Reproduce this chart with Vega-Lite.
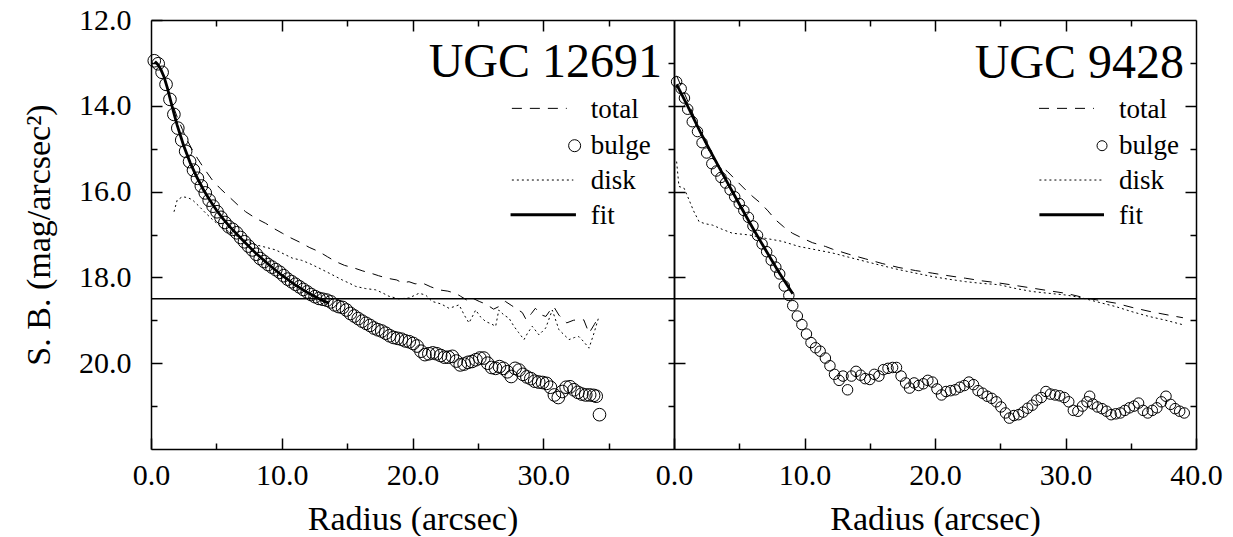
{
"$schema":"https://vega.github.io/schema/vega-lite/v6.json",
"background":"white",
"padding":{"left":22,"top":5,"right":5,"bottom":0},
"spacing":0,
"bounds":"flush",
"config":{
 "view":{"stroke":null},
 "font":"Liberation Serif",
 "axis":{"grid":false,"domainColor":"black","domainWidth":1.5,"tickColor":"black","tickWidth":1.5,"labelFont":"Liberation Serif","labelFontSize":30,"labelColor":"black","titleFont":"Liberation Serif","titleFontSize":34,"titleFontWeight":"normal","titleColor":"black","labelFlush":false,"labelOverlap":false},
 "text":{"font":"Liberation Serif","color":"black"}
},
"datasets":{
 "lb":[{"r":0.25,"sb":12.95},{"r":0.55,"sb":13.02},{"r":0.85,"sb":13.22},{"r":1.15,"sb":13.5},{"r":1.45,"sb":13.85},{"r":1.75,"sb":14.2},{"r":2.05,"sb":14.52},{"r":2.35,"sb":14.8},{"r":2.65,"sb":15.06},{"r":2.95,"sb":15.3},{"r":3.25,"sb":15.5},{"r":3.55,"sb":15.69},{"r":3.85,"sb":15.87},{"r":4.15,"sb":16.03},{"r":4.45,"sb":16.2},{"r":4.75,"sb":16.34},{"r":5.05,"sb":16.47},{"r":5.35,"sb":16.6},{"r":5.65,"sb":16.72},{"r":5.95,"sb":16.82},{"r":6.25,"sb":16.88},{"r":6.55,"sb":16.96},{"r":6.85,"sb":17.07},{"r":7.15,"sb":17.17},{"r":7.45,"sb":17.27},{"r":7.75,"sb":17.36},{"r":8.05,"sb":17.46},{"r":8.35,"sb":17.56},{"r":8.65,"sb":17.63},{"r":8.95,"sb":17.7},{"r":9.25,"sb":17.76},{"r":9.55,"sb":17.82},{"r":9.85,"sb":17.88},{"r":10.15,"sb":17.96},{"r":10.45,"sb":18.04},{"r":10.75,"sb":18.1},{"r":11.05,"sb":18.16},{"r":11.35,"sb":18.22},{"r":11.65,"sb":18.28},{"r":11.95,"sb":18.34},{"r":12.25,"sb":18.4},{"r":12.55,"sb":18.45},{"r":12.85,"sb":18.49},{"r":13.15,"sb":18.51},{"r":13.45,"sb":18.53},{"r":13.75,"sb":18.57},{"r":14.05,"sb":18.64},{"r":14.35,"sb":18.68},{"r":14.65,"sb":18.7},{"r":14.95,"sb":18.76},{"r":15.25,"sb":18.84},{"r":15.55,"sb":18.9},{"r":15.85,"sb":18.96},{"r":16.15,"sb":19.02},{"r":16.45,"sb":19.07},{"r":16.75,"sb":19.12},{"r":17.05,"sb":19.18},{"r":17.35,"sb":19.22},{"r":17.65,"sb":19.25},{"r":17.95,"sb":19.3},{"r":18.25,"sb":19.36},{"r":18.55,"sb":19.4},{"r":18.85,"sb":19.42},{"r":19.15,"sb":19.44},{"r":19.45,"sb":19.48},{"r":19.75,"sb":19.5},{"r":20.05,"sb":19.54},{"r":20.35,"sb":19.6},{"r":20.65,"sb":19.72},{"r":20.95,"sb":19.8},{"r":21.25,"sb":19.78},{"r":21.55,"sb":19.76},{"r":21.85,"sb":19.78},{"r":22.15,"sb":19.82},{"r":22.45,"sb":19.86},{"r":22.75,"sb":19.86},{"r":23.05,"sb":19.84},{"r":23.35,"sb":19.95},{"r":23.65,"sb":20.04},{"r":23.95,"sb":20.02},{"r":24.25,"sb":19.98},{"r":24.55,"sb":19.96},{"r":24.85,"sb":19.92},{"r":25.15,"sb":19.88},{"r":25.45,"sb":19.88},{"r":25.75,"sb":20.0},{"r":26.05,"sb":20.1},{"r":26.35,"sb":20.12},{"r":26.65,"sb":20.08},{"r":26.95,"sb":20.12},{"r":27.25,"sb":20.2},{"r":27.55,"sb":20.31},{"r":27.85,"sb":20.12},{"r":28.15,"sb":20.16},{"r":28.45,"sb":20.26},{"r":28.75,"sb":20.32},{"r":29.05,"sb":20.36},{"r":29.35,"sb":20.42},{"r":29.65,"sb":20.44},{"r":29.95,"sb":20.45},{"r":30.25,"sb":20.47},{"r":30.55,"sb":20.56},{"r":30.85,"sb":20.74},{"r":31.15,"sb":20.8},{"r":31.45,"sb":20.66},{"r":31.75,"sb":20.56},{"r":32.05,"sb":20.55},{"r":32.35,"sb":20.62},{"r":32.65,"sb":20.68},{"r":32.95,"sb":20.72},{"r":33.25,"sb":20.74},{"r":33.55,"sb":20.74},{"r":33.85,"sb":20.75},{"r":34.05,"sb":20.77},{"r":34.3,"sb":21.2}],
 "lf":[{"r":0.3,"sb":12.97},{"r":0.5,"sb":13.03},{"r":0.75,"sb":13.15},{"r":1.0,"sb":13.33},{"r":1.25,"sb":13.58},{"r":1.5,"sb":13.88},{"r":1.75,"sb":14.17},{"r":2.0,"sb":14.45},{"r":2.5,"sb":14.93},{"r":3.0,"sb":15.33},{"r":3.5,"sb":15.66},{"r":4.0,"sb":15.95},{"r":4.5,"sb":16.2},{"r":5.0,"sb":16.43},{"r":5.5,"sb":16.63},{"r":6.0,"sb":16.81},{"r":7.0,"sb":17.13},{"r":8.0,"sb":17.43},{"r":9.0,"sb":17.7},{"r":10.0,"sb":17.95},{"r":11.0,"sb":18.17},{"r":12.0,"sb":18.36},{"r":13.0,"sb":18.52},{"r":13.6,"sb":18.6}],
 "lt":[{"r":1.75,"sb":14.05},{"r":2.05,"sb":14.3},{"r":2.4,"sb":14.55},{"r":2.8,"sb":14.82},{"r":3.2,"sb":15.05},{"r":3.54,"sb":15.22},{"r":4.1,"sb":15.48},{"r":4.69,"sb":15.73},{"r":5.3,"sb":15.93},{"r":5.97,"sb":16.12},{"r":6.6,"sb":16.3},{"r":7.24,"sb":16.47},{"r":8.0,"sb":16.62},{"r":8.77,"sb":16.74},{"r":9.4,"sb":16.86},{"r":10.04,"sb":16.97},{"r":10.7,"sb":17.08},{"r":11.45,"sb":17.19},{"r":12.1,"sb":17.3},{"r":12.85,"sb":17.4},{"r":13.5,"sb":17.52},{"r":14.12,"sb":17.63},{"r":14.8,"sb":17.72},{"r":15.53,"sb":17.78},{"r":16.2,"sb":17.85},{"r":16.8,"sb":17.9},{"r":17.4,"sb":17.96},{"r":18.07,"sb":18.02},{"r":18.8,"sb":18.06},{"r":19.22,"sb":18.13},{"r":19.73,"sb":18.1},{"r":20.2,"sb":18.15},{"r":20.75,"sb":18.13},{"r":21.4,"sb":18.22},{"r":22.03,"sb":18.29},{"r":22.7,"sb":18.32},{"r":23.3,"sb":18.37},{"r":23.68,"sb":18.44},{"r":24.0,"sb":18.5},{"r":24.32,"sb":18.56},{"r":24.7,"sb":18.5},{"r":25.1,"sb":18.56},{"r":25.6,"sb":18.62},{"r":26.2,"sb":18.74},{"r":26.6,"sb":18.68},{"r":27.1,"sb":18.56},{"r":27.6,"sb":18.66},{"r":28.0,"sb":18.74},{"r":28.4,"sb":18.82},{"r":28.7,"sb":18.99},{"r":29.1,"sb":18.84},{"r":29.4,"sb":18.72},{"r":29.9,"sb":18.88},{"r":30.2,"sb":18.91},{"r":30.5,"sb":18.78},{"r":30.8,"sb":18.68},{"r":31.2,"sb":18.88},{"r":31.8,"sb":19.06},{"r":32.3,"sb":19.0},{"r":32.8,"sb":18.98},{"r":33.1,"sb":18.99},{"r":33.5,"sb":19.3},{"r":33.9,"sb":19.1},{"r":34.26,"sb":18.91}],
 "ld":[{"r":1.76,"sb":16.47},{"r":2.0,"sb":16.2},{"r":2.4,"sb":16.12},{"r":2.8,"sb":16.14},{"r":3.16,"sb":16.19},{"r":3.6,"sb":16.32},{"r":4.18,"sb":16.5},{"r":4.8,"sb":16.68},{"r":5.5,"sb":16.85},{"r":6.2,"sb":16.98},{"r":7.0,"sb":17.1},{"r":8.0,"sb":17.24},{"r":8.8,"sb":17.3},{"r":9.54,"sb":17.36},{"r":10.2,"sb":17.46},{"r":10.8,"sb":17.55},{"r":11.5,"sb":17.6},{"r":12.08,"sb":17.67},{"r":12.7,"sb":17.76},{"r":13.36,"sb":17.86},{"r":14.0,"sb":17.96},{"r":14.63,"sb":18.06},{"r":15.2,"sb":18.14},{"r":15.66,"sb":18.21},{"r":16.4,"sb":18.26},{"r":17.18,"sb":18.29},{"r":17.7,"sb":18.36},{"r":18.2,"sb":18.44},{"r":18.97,"sb":18.5},{"r":19.73,"sb":18.48},{"r":20.5,"sb":18.37},{"r":21.0,"sb":18.41},{"r":21.5,"sb":18.56},{"r":22.2,"sb":18.62},{"r":22.79,"sb":18.72},{"r":23.2,"sb":18.68},{"r":23.56,"sb":18.64},{"r":24.0,"sb":18.9},{"r":24.32,"sb":19.06},{"r":24.6,"sb":18.9},{"r":24.83,"sb":18.76},{"r":25.2,"sb":18.92},{"r":25.6,"sb":19.03},{"r":26.0,"sb":19.08},{"r":26.36,"sb":19.14},{"r":26.6,"sb":18.76},{"r":27.0,"sb":18.88},{"r":27.38,"sb":18.95},{"r":27.76,"sb":19.14},{"r":28.1,"sb":19.28},{"r":28.53,"sb":19.45},{"r":28.8,"sb":19.3},{"r":29.16,"sb":19.14},{"r":29.67,"sb":19.34},{"r":30.19,"sb":19.18},{"r":30.69,"sb":18.76},{"r":31.2,"sb":19.22},{"r":31.6,"sb":19.34},{"r":31.97,"sb":19.45},{"r":32.4,"sb":19.4},{"r":32.73,"sb":19.38},{"r":33.1,"sb":19.5},{"r":33.5,"sb":19.65},{"r":33.88,"sb":19.3},{"r":34.26,"sb":18.91}],
 "rb":[{"r":0.2,"sb":13.44},{"r":0.55,"sb":13.6},{"r":0.8,"sb":13.82},{"r":1.05,"sb":14.08},{"r":1.4,"sb":14.37},{"r":1.8,"sb":14.6},{"r":2.15,"sb":14.86},{"r":2.5,"sb":15.1},{"r":2.9,"sb":15.35},{"r":3.25,"sb":15.52},{"r":3.6,"sb":15.67},{"r":3.95,"sb":15.8},{"r":4.3,"sb":15.96},{"r":4.65,"sb":16.12},{"r":5.0,"sb":16.28},{"r":5.35,"sb":16.44},{"r":5.7,"sb":16.6},{"r":6.05,"sb":16.8},{"r":6.4,"sb":17.02},{"r":6.75,"sb":17.22},{"r":7.1,"sb":17.4},{"r":7.45,"sb":17.6},{"r":7.8,"sb":17.76},{"r":8.1,"sb":17.92},{"r":8.45,"sb":18.2},{"r":8.8,"sb":18.42},{"r":9.1,"sb":18.66},{"r":9.45,"sb":18.9},{"r":9.8,"sb":19.1},{"r":10.15,"sb":19.32},{"r":10.5,"sb":19.52},{"r":10.85,"sb":19.64},{"r":11.2,"sb":19.72},{"r":11.6,"sb":19.88},{"r":11.95,"sb":20.06},{"r":12.3,"sb":20.26},{"r":12.65,"sb":20.4},{"r":12.95,"sb":20.3},{"r":13.3,"sb":20.62},{"r":13.6,"sb":20.3},{"r":13.95,"sb":20.19},{"r":14.3,"sb":20.28},{"r":14.65,"sb":20.36},{"r":15.0,"sb":20.38},{"r":15.35,"sb":20.26},{"r":15.7,"sb":20.3},{"r":16.05,"sb":20.15},{"r":16.4,"sb":20.12},{"r":16.75,"sb":20.1},{"r":17.05,"sb":20.1},{"r":17.4,"sb":20.3},{"r":17.75,"sb":20.46},{"r":18.05,"sb":20.58},{"r":18.4,"sb":20.46},{"r":18.75,"sb":20.52},{"r":19.1,"sb":20.48},{"r":19.45,"sb":20.4},{"r":19.8,"sb":20.44},{"r":20.15,"sb":20.6},{"r":20.5,"sb":20.74},{"r":20.85,"sb":20.66},{"r":21.2,"sb":20.64},{"r":21.55,"sb":20.62},{"r":21.9,"sb":20.56},{"r":22.25,"sb":20.52},{"r":22.6,"sb":20.44},{"r":22.95,"sb":20.5},{"r":23.3,"sb":20.64},{"r":23.65,"sb":20.7},{"r":24.0,"sb":20.77},{"r":24.35,"sb":20.82},{"r":24.7,"sb":20.9},{"r":25.05,"sb":21.02},{"r":25.4,"sb":21.16},{"r":25.7,"sb":21.28},{"r":26.05,"sb":21.22},{"r":26.4,"sb":21.2},{"r":26.75,"sb":21.14},{"r":27.1,"sb":21.05},{"r":27.45,"sb":20.98},{"r":27.8,"sb":20.86},{"r":28.15,"sb":20.8},{"r":28.5,"sb":20.66},{"r":28.85,"sb":20.72},{"r":29.2,"sb":20.74},{"r":29.55,"sb":20.76},{"r":29.9,"sb":20.8},{"r":30.25,"sb":20.9},{"r":30.6,"sb":21.1},{"r":30.95,"sb":21.12},{"r":31.3,"sb":21.0},{"r":31.65,"sb":20.9},{"r":31.85,"sb":20.77},{"r":32.1,"sb":20.95},{"r":32.45,"sb":21.02},{"r":32.8,"sb":21.06},{"r":33.15,"sb":21.12},{"r":33.5,"sb":21.2},{"r":33.85,"sb":21.18},{"r":34.2,"sb":21.16},{"r":34.55,"sb":21.1},{"r":34.9,"sb":21.04},{"r":35.25,"sb":21.0},{"r":35.6,"sb":20.93},{"r":35.95,"sb":21.1},{"r":36.3,"sb":21.16},{"r":36.65,"sb":21.1},{"r":37.0,"sb":21.04},{"r":37.35,"sb":20.9},{"r":37.7,"sb":20.77},{"r":38.05,"sb":20.96},{"r":38.4,"sb":21.06},{"r":38.75,"sb":21.12},{"r":39.1,"sb":21.16}],
 "rf":[{"r":0.2,"sb":13.5},{"r":1.0,"sb":13.98},{"r":2.0,"sb":14.6},{"r":3.0,"sb":15.18},{"r":4.0,"sb":15.74},{"r":5.0,"sb":16.29},{"r":6.0,"sb":16.83},{"r":7.0,"sb":17.35},{"r":8.0,"sb":17.86},{"r":9.1,"sb":18.38}],
 "rt":[{"r":0.2,"sb":13.3},{"r":1.0,"sb":13.85},{"r":2.0,"sb":14.6},{"r":2.94,"sb":15.22},{"r":3.5,"sb":15.4},{"r":4.09,"sb":15.53},{"r":4.8,"sb":15.75},{"r":5.49,"sb":15.96},{"r":6.05,"sb":16.12},{"r":6.64,"sb":16.27},{"r":7.2,"sb":16.45},{"r":7.79,"sb":16.66},{"r":8.4,"sb":16.82},{"r":9.07,"sb":16.97},{"r":9.8,"sb":17.08},{"r":10.6,"sb":17.19},{"r":11.62,"sb":17.28},{"r":12.13,"sb":17.34},{"r":13.4,"sb":17.46},{"r":14.69,"sb":17.57},{"r":16.0,"sb":17.68},{"r":17.24,"sb":17.77},{"r":18.5,"sb":17.84},{"r":19.79,"sb":17.9},{"r":21.0,"sb":17.96},{"r":22.35,"sb":18.02},{"r":23.6,"sb":18.08},{"r":24.9,"sb":18.13},{"r":26.2,"sb":18.19},{"r":27.46,"sb":18.25},{"r":28.7,"sb":18.31},{"r":30.01,"sb":18.37},{"r":31.55,"sb":18.48},{"r":32.7,"sb":18.54},{"r":33.84,"sb":18.6},{"r":35.1,"sb":18.7},{"r":36.4,"sb":18.79},{"r":37.4,"sb":18.85},{"r":38.44,"sb":18.91},{"r":39.0,"sb":18.94}],
 "rd":[{"r":0.2,"sb":15.3},{"r":0.38,"sb":15.88},{"r":0.77,"sb":15.92},{"r":1.15,"sb":16.19},{"r":1.5,"sb":16.45},{"r":1.92,"sb":16.7},{"r":2.4,"sb":16.75},{"r":2.94,"sb":16.78},{"r":3.7,"sb":16.88},{"r":4.47,"sb":16.97},{"r":5.75,"sb":17.01},{"r":7.03,"sb":17.09},{"r":8.3,"sb":17.16},{"r":9.58,"sb":17.28},{"r":10.6,"sb":17.34},{"r":11.62,"sb":17.4},{"r":12.13,"sb":17.43},{"r":13.4,"sb":17.53},{"r":14.69,"sb":17.63},{"r":16.0,"sb":17.73},{"r":17.24,"sb":17.82},{"r":18.5,"sb":17.9},{"r":19.79,"sb":17.98},{"r":21.0,"sb":18.04},{"r":22.35,"sb":18.1},{"r":23.6,"sb":18.14},{"r":24.9,"sb":18.17},{"r":26.2,"sb":18.26},{"r":27.46,"sb":18.33},{"r":28.7,"sb":18.37},{"r":30.01,"sb":18.41},{"r":31.0,"sb":18.46},{"r":31.8,"sb":18.52},{"r":32.8,"sb":18.6},{"r":33.84,"sb":18.68},{"r":35.1,"sb":18.8},{"r":36.4,"sb":18.91},{"r":37.7,"sb":19.0},{"r":38.95,"sb":19.1}]
},
"hconcat":[
 {
  "width":523,"height":429,
  "resolve":{"axis":{"x":"independent","y":"independent"}},
  "layer":[
   {"data":{"name":"lb"},"mark":{"type":"point","shape":"circle","filled":false,"stroke":"black","strokeWidth":1,"size":160,"opacity":1},
    "encoding":{
     "x":{"field":"r","type":"quantitative","scale":{"domain":[0,40],"nice":false,"zero":false},"axis":{"orient":"bottom","values":[0,10,20,30],"format":".1f","title":"Radius (arcsec)","tickSize":-11,"labelPadding":22,"titlePadding":12}},
     "y":{"field":"sb","type":"quantitative","scale":{"domain":[12,22],"reverse":true,"nice":false,"zero":false},"axis":{"orient":"left","values":[12,14,16,18,20],"format":".1f","title":"S. B. (mag/arcsec²)","tickSize":-11,"labelPadding":31,"titlePadding":22}}}},
   {"data":{"name":"lf"},"mark":{"type":"line","stroke":"black","strokeWidth":2.8},
    "encoding":{
     "x":{"field":"r","type":"quantitative","axis":{"orient":"bottom","values":[5,15,25,35],"labels":false,"title":null,"tickSize":-6,"domain":false}},
     "y":{"field":"sb","type":"quantitative","axis":{"orient":"left","values":[13,15,17,19,21],"labels":false,"title":null,"tickSize":-6,"domain":false}}}},
   {"data":{"name":"lt"},"mark":{"type":"line","stroke":"black","strokeWidth":1,"strokeDash":[10,8]},
    "encoding":{
     "x":{"field":"r","type":"quantitative","axis":{"orient":"top","values":[10,20,30],"labels":false,"title":null,"tickSize":-11}},
     "y":{"field":"sb","type":"quantitative","axis":{"orient":"right","values":[13,14,15,16,17,18,19,20,21],"labels":false,"title":null,"tickSize":-6}}}},
   {"data":{"name":"ld"},"mark":{"type":"line","stroke":"black","strokeWidth":1,"strokeDash":[2,3]},
    "encoding":{
     "x":{"field":"r","type":"quantitative","axis":{"orient":"top","values":[5,15,25,35],"labels":false,"title":null,"tickSize":-6,"domain":false}},
     "y":{"field":"sb","type":"quantitative","axis":null}}},
   {"data":{"values":[{}]},"mark":{"type":"rule","stroke":"black","strokeWidth":1.5},
    "encoding":{"y":{"datum":18.5,"type":"quantitative","axis":null}}},
   {"data":{"values":[{}]},"mark":{"type":"text","text":"UGC 12691","align":"right","baseline":"alphabetic","fontSize":48,"font":"Liberation Serif"},
    "encoding":{"x":{"datum":39.08,"type":"quantitative","axis":null},"y":{"datum":13.33,"type":"quantitative","axis":null}}},
   {"data":{"values":[{}]},"mark":{"type":"text","text":["total","bulge","disk","fit"],"lineHeight":35.3,"align":"left","baseline":"alphabetic","fontSize":27,"font":"Liberation Serif"},
    "encoding":{"x":{"datum":33.64,"type":"quantitative","axis":null},"y":{"datum":14.29,"type":"quantitative","axis":null}}},
   {"data":{"values":[{}]},"mark":{"type":"rule","stroke":"black","strokeWidth":1,"strokeDash":[10,8]},
    "encoding":{"x":{"datum":27.6,"type":"quantitative","axis":null},"x2":{"datum":31.8},"y":{"datum":14.06,"type":"quantitative","axis":null}}},
   {"data":{"values":[{}]},"mark":{"type":"point","shape":"circle","filled":false,"stroke":"black","strokeWidth":1,"size":144,"opacity":1},
    "encoding":{"x":{"datum":32.4,"type":"quantitative","axis":null},"y":{"datum":14.93,"type":"quantitative","axis":null}}},
   {"data":{"values":[{}]},"mark":{"type":"rule","stroke":"black","strokeWidth":1,"strokeDash":[2,3]},
    "encoding":{"x":{"datum":27.6,"type":"quantitative","axis":null},"x2":{"datum":32.3},"y":{"datum":15.73,"type":"quantitative","axis":null}}},
   {"data":{"values":[{}]},"mark":{"type":"rule","stroke":"black","strokeWidth":2.8},
    "encoding":{"x":{"datum":27.5,"type":"quantitative","axis":null},"x2":{"datum":32.5},"y":{"datum":16.54,"type":"quantitative","axis":null}}}
  ]
 },
 {
  "width":522,"height":429,
  "resolve":{"axis":{"x":"independent","y":"independent"}},
  "layer":[
   {"data":{"name":"rb"},"mark":{"type":"point","shape":"circle","filled":false,"stroke":"black","strokeWidth":1,"size":110,"opacity":1},
    "encoding":{
     "x":{"field":"r","type":"quantitative","scale":{"domain":[0,40],"nice":false,"zero":false},"axis":{"orient":"bottom","values":[0,10,20,30,40],"format":".1f","title":"Radius (arcsec)","tickSize":-11,"labelPadding":22,"titlePadding":12}},
     "y":{"field":"sb","type":"quantitative","scale":{"domain":[12,22],"reverse":true,"nice":false,"zero":false},"axis":{"orient":"left","values":[14,16,18,20],"labels":false,"title":null,"tickSize":-11}}}},
   {"data":{"name":"rf"},"mark":{"type":"line","stroke":"black","strokeWidth":2.8},
    "encoding":{
     "x":{"field":"r","type":"quantitative","axis":{"orient":"bottom","values":[5,15,25,35],"labels":false,"title":null,"tickSize":-6,"domain":false}},
     "y":{"field":"sb","type":"quantitative","axis":{"orient":"right","values":[13,15,17,19,21],"labels":false,"title":null,"tickSize":-6,"domain":false}}}},
   {"data":{"name":"rt"},"mark":{"type":"line","stroke":"black","strokeWidth":1,"strokeDash":[10,8]},
    "encoding":{
     "x":{"field":"r","type":"quantitative","axis":{"orient":"top","values":[10,20,30],"labels":false,"title":null,"tickSize":-11}},
     "y":{"field":"sb","type":"quantitative","axis":{"orient":"right","values":[14,16,18,20],"labels":false,"title":null,"tickSize":-11}}}},
   {"data":{"name":"rd"},"mark":{"type":"line","stroke":"black","strokeWidth":1,"strokeDash":[2,3]},
    "encoding":{
     "x":{"field":"r","type":"quantitative","axis":{"orient":"top","values":[5,15,25,35],"labels":false,"title":null,"tickSize":-6,"domain":false}},
     "y":{"field":"sb","type":"quantitative","axis":null}}},
   {"data":{"values":[{}]},"mark":{"type":"rule","stroke":"black","strokeWidth":1.5},
    "encoding":{"y":{"datum":18.5,"type":"quantitative","axis":null}}},
   {"data":{"values":[{}]},"mark":{"type":"text","text":"UGC 9428","align":"right","baseline":"alphabetic","fontSize":48,"font":"Liberation Serif"},
    "encoding":{"x":{"datum":39.08,"type":"quantitative","axis":null},"y":{"datum":13.36,"type":"quantitative","axis":null}}},
   {"data":{"values":[{}]},"mark":{"type":"text","text":["total","bulge","disk","fit"],"lineHeight":35.3,"align":"left","baseline":"alphabetic","fontSize":27,"font":"Liberation Serif"},
    "encoding":{"x":{"datum":34.1,"type":"quantitative","axis":null},"y":{"datum":14.29,"type":"quantitative","axis":null}}},
   {"data":{"values":[{}]},"mark":{"type":"rule","stroke":"black","strokeWidth":1,"strokeDash":[10,8]},
    "encoding":{"x":{"datum":27.97,"type":"quantitative","axis":null},"x2":{"datum":32.18},"y":{"datum":14.06,"type":"quantitative","axis":null}}},
   {"data":{"values":[{}]},"mark":{"type":"point","shape":"circle","filled":false,"stroke":"black","strokeWidth":1,"size":100,"opacity":1},
    "encoding":{"x":{"datum":32.8,"type":"quantitative","axis":null},"y":{"datum":14.93,"type":"quantitative","axis":null}}},
   {"data":{"values":[{}]},"mark":{"type":"rule","stroke":"black","strokeWidth":1,"strokeDash":[2,3]},
    "encoding":{"x":{"datum":28.0,"type":"quantitative","axis":null},"x2":{"datum":32.8},"y":{"datum":15.73,"type":"quantitative","axis":null}}},
   {"data":{"values":[{}]},"mark":{"type":"rule","stroke":"black","strokeWidth":2.8},
    "encoding":{"x":{"datum":28.0,"type":"quantitative","axis":null},"x2":{"datum":32.95},"y":{"datum":16.54,"type":"quantitative","axis":null}}}
  ]
 }
]
}
